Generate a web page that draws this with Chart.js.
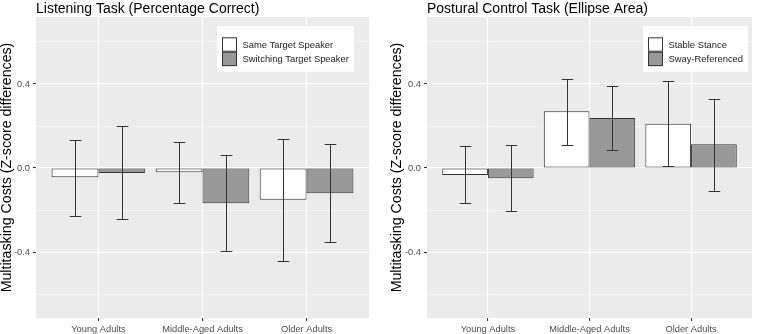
<!DOCTYPE html>
<html>
<head>
<meta charset="utf-8">
<script src="https://cdn.jsdelivr.net/npm/chart.js@4/dist/chart.umd.min.js"></script>
<style>
    body { margin: 0; background: #fff; width: 763px; height: 334px; position: relative; overflow: hidden; }
    canvas { position: absolute; top: 0; }
</style>
</head>
<body>
<canvas id="listening" width="380" height="334" style="left:0"></canvas>
<canvas id="postural" width="380" height="334" style="left:383px"></canvas>
<script>
const groups = ['Young Adults', 'Middle-Aged Adults', 'Older Adults'];
const yTicks = [-0.6, -0.4, -0.2, 0, 0.2, 0.4, 0.6];

// Listening task (percentage correct)
const sameSpeaker = [-0.044, -0.02, -0.151];
const sameSpeakerLow = [-0.227, -0.168, -0.441];
const sameSpeakerHigh = [0.133, 0.125, 0.138];
const switchSpeaker = [-0.024, -0.168, -0.12];
const switchSpeakerLow = [-0.243, -0.395, -0.354];
const switchSpeakerHigh = [0.2, 0.06, 0.113];

// Postural control task (ellipse area)
const stableStance = [-0.033, 0.27, 0.211];
const stableStanceLow = [-0.168, 0.108, 0.011];
const stableStanceHigh = [0.105, 0.425, 0.416];
const swayRef = [-0.049, 0.238, 0.113];
const swayRefLow = [-0.203, 0.086, -0.108];
const swayRefHigh = [0.108, 0.389, 0.33];

const FONT = '"Liberation Sans", Arial, sans-serif';
const isMajor = v => Math.abs(Math.round(v * 10)) % 4 === 0;

// grey panel behind the plot
const panelBg = {
    id: 'panelBg',
    beforeDraw(chart) {
        const a = chart.chartArea, ctx = chart.ctx;
        ctx.save();
        ctx.fillStyle = '#EBEBEB';
        ctx.fillRect(a.left, a.top, a.right - a.left, a.bottom - a.top);
        ctx.restore();
    }
};

// error bars from low/high arrays stored on each dataset
const errorBars = {
    id: 'errorBars',
    afterDatasetsDraw(chart) {
        const ctx = chart.ctx, y = chart.scales.y;
        ctx.save();
        ctx.strokeStyle = '#333333';
        ctx.lineWidth = 1;
        chart.data.datasets.forEach((ds, di) => {
            chart.getDatasetMeta(di).data.forEach((bar, i) => {
                const x = Math.round(bar.x) + 0.5;
                const cap = bar.width * 0.125;
                const yl = Math.round(y.getPixelForValue(ds.low[i])) + 0.5;
                const yh = Math.round(y.getPixelForValue(ds.high[i])) + 0.5;
                ctx.beginPath();
                ctx.moveTo(x, yl); ctx.lineTo(x, yh);
                ctx.moveTo(x - cap, yl); ctx.lineTo(x + cap, yl);
                ctx.moveTo(x - cap, yh); ctx.lineTo(x + cap, yh);
                ctx.stroke();
            });
        });
        ctx.restore();
    }
};

// title aligned to the panel, legend box inside the panel
const decorations = {
    id: 'decorations',
    afterDraw(chart, args, opts) {
        const ctx = chart.ctx, a = chart.chartArea;
        ctx.save();
        ctx.fillStyle = '#000';
        ctx.font = '14px ' + FONT;
        ctx.textBaseline = 'alphabetic';
        ctx.fillText(opts.title, a.left, 13);

        ctx.font = '9.4px ' + FONT;
        const dsets = chart.data.datasets;
        const textW = Math.max(...dsets.map(d => ctx.measureText(d.label).width));
        const keyW = 15, keyH = 14.4;
        const w = 5 + keyW + 5.5 + textW + 5;
        const h = 45.7;
        const cx = a.left + opts.legendX * (a.right - a.left);
        const left = Math.round(cx - w / 2), top = a.top + 9;
        ctx.fillStyle = '#fff';
        ctx.fillRect(left, top, w, h);
        dsets.forEach((d, i) => {
            const ky = top + 11.3 + i * keyH;
            ctx.fillStyle = d.backgroundColor;
            ctx.fillRect(left + 5, ky, keyW, keyH);
            ctx.strokeStyle = '#333';
            ctx.lineWidth = 1;
            ctx.strokeRect(left + 5.5, ky + 0.5, keyW - 1, keyH - 1);
            ctx.fillStyle = '#1a1a1a';
            ctx.textBaseline = 'middle';
            ctx.fillText(d.label, left + 5 + keyW + 5.5, ky + keyH / 2 + 0.5);
        });
        ctx.restore();
    }
};

function makeDataset(label, values, low, high, fill) {
    return {
        label: label,
        data: values.map((v, i) => ({ x: i + 1, y: v })),
        low: low,
        high: high,
        backgroundColor: fill,
        borderColor: '#333333',
        borderWidth: 1,
        borderSkipped: false,
        categoryPercentage: 0.9,
        barPercentage: 1.0
    };
}

function makeChart(id, title, datasets, yAxisWidth, yTitlePad, legendX) {
    return new Chart(document.getElementById(id), {
        type: 'bar',
        data: { datasets: datasets },
        plugins: [panelBg, errorBars, decorations],
        options: {
            responsive: false,
            animation: false,
            layout: { padding: { top: 17, right: 11, left: 0, bottom: 0 } },
            plugins: {
                legend: { display: false },
                tooltip: { enabled: false },
                decorations: { title: title, legendX: legendX }
            },
            scales: {
                x: {
                    type: 'linear',
                    min: 0.4,
                    max: 3.6,
                    offset: false,
                    afterBuildTicks: s => { s.ticks = [1, 2, 3].map(v => ({ value: v })); },
                    afterFit: s => { s.height = 16; },
                    border: { display: false },
                    grid: { offset: false, color: '#ffffff', lineWidth: 1.07, tickColor: '#333333', tickLength: 3 },
                    ticks: {
                        callback: v => groups[v - 1],
                        color: '#4D4D4D',
                        font: { family: FONT, size: 9.3 },
                        padding: 3,
                        maxRotation: 0,
                        autoSkip: false
                    }
                },
                y: {
                    min: -0.714,
                    max: 0.719,
                    afterBuildTicks: s => { s.ticks = yTicks.map(v => ({ value: v })); },
                    afterFit: s => { s.width = yAxisWidth; },
                    border: { display: false },
                    grid: {
                        color: '#ffffff',
                        lineWidth: c => isMajor(c.tick.value) ? 1.07 : 0.53,
                        tickColor: c => isMajor(c.tick.value) ? '#333333' : 'rgba(0,0,0,0)',
                        tickLength: 3
                    },
                    ticks: {
                        callback: v => isMajor(v) ? v.toFixed(1) : '',
                        color: '#4D4D4D',
                        font: { family: FONT, size: 9.3 },
                        padding: 3
                    },
                    title: {
                        display: true,
                        text: 'Multitasking Costs (Z-score differences)',
                        color: '#000',
                        font: { family: FONT, size: 14.2, lineHeight: 1.05 },
                        padding: { top: yTitlePad, bottom: 0 }
                    }
                }
            }
        }
    });
}

makeChart('listening', 'Listening Task (Percentage Correct)', [
    makeDataset('Same Target Speaker', sameSpeaker, sameSpeakerLow, sameSpeakerHigh, '#ffffff'),
    makeDataset('Switching Target Speaker', switchSpeaker, switchSpeakerLow, switchSpeakerHigh, '#999999')
], 36, 0, 0.75);

makeChart('postural', 'Postural Control Task (Ellipse Area)', [
    makeDataset('Stable Stance', stableStance, stableStanceLow, stableStanceHigh, '#ffffff'),
    makeDataset('Sway-Referenced', swayRef, swayRefLow, swayRefHigh, '#999999')
], 44, 7, 0.825);
</script>
</body>
</html>
